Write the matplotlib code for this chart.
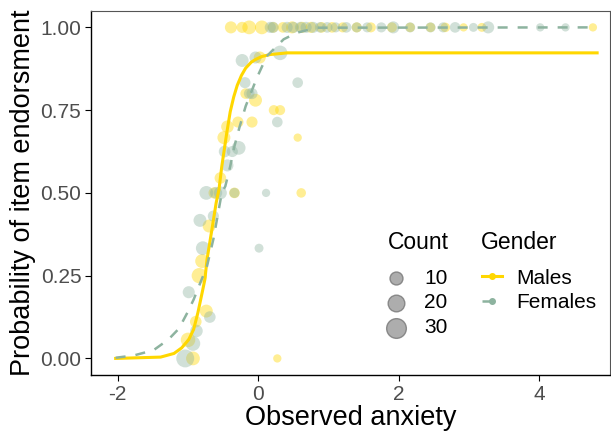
import numpy as np
import matplotlib
matplotlib.use("Agg")
import matplotlib.pyplot as plt
from matplotlib.lines import Line2D

plt.rcParams["font.family"] = ["Liberation Sans", "DejaVu Sans"]
plt.rcParams["axes.unicode_minus"] = False

MALE_COL = "#FFD700"
FEMALE_COL = "#8DB39F"

# observed proportions per anxiety score (x, proportion, count)
male_x = [-0.39, -0.23, -0.13, 0.05, 0.21, 0.35, 0.48, 0.62, 0.75, 0.90, 1.05, 1.20,
          1.40, 1.60, 1.90, 2.16, 2.45, 2.66, 2.92, 3.18, 4.76,
          0.02, -0.18, -0.04, 0.22, 0.31, -0.09, -0.29, -0.44, -0.49, 0.56, -0.54,
          -0.63, -0.34, 0.61, -0.70, -0.80, -0.84, -0.74, -0.89, -1.00, -0.93, 0.27]
male_y = [1.0] * 21 + [0.909, 0.80, 0.78, 0.75, 0.75, 0.714, 0.714, 0.70, 0.667, 0.667,
                       0.545, 0.50, 0.50, 0.50, 0.40, 0.294, 0.25, 0.143, 0.111, 0.056,
                       0.0, 0.0]
male_n = [8, 6, 12, 12, 5, 5, 8, 6, 6, 5, 5, 4, 4, 4, 4, 3, 3, 3, 1, 2, 1,
          8, 5, 10, 4, 4, 6, 6, 9, 10, 1, 7, 6, 5, 3, 10, 12, 16, 10, 7, 14, 12, 1]

female_x = [0.17, 0.21, 0.41, 0.50, 0.60, 0.68, 0.78, 0.88, 0.98, 1.10, 1.25, 1.40,
            1.55, 1.75, 1.92, 2.16, 2.45, 2.63, 2.80, 3.06, 3.27, 4.01, 4.37,
            -0.23, -0.04, 0.31, -0.19, 0.56, -0.13, -0.09, 0.27, -0.28, -0.48, -0.37,
            -0.44, -0.74, -0.54, -0.34, 0.11, -0.60, -0.64, -0.83, -0.79, 0.01,
            -0.99, -0.69, -0.88, -0.93, -1.04]
female_y = [1.0] * 23 + [0.90, 0.909, 0.923, 0.833, 0.833, 0.80, 0.80, 0.714, 0.636,
                         0.625, 0.625, 0.583, 0.50, 0.50, 0.50, 0.50, 0.50, 0.43, 0.417,
                         0.333, 0.333, 0.20, 0.125, 0.083, 0.045, 0.0]
female_n = [6, 6, 6, 6, 6, 6, 6, 5, 5, 4, 5, 4, 4, 4, 8, 4, 4, 4, 5, 2, 8, 1, 1,
            10, 8, 14, 6, 5, 5, 6, 5, 12, 7, 6, 8, 12, 10, 4, 1, 8, 6, 10, 12, 2,
            8, 7, 9, 14, 24]

# fitted curves
male_curve_x = [-2.03, -1.39, -1.20, -1.09, -0.99, -0.92, -0.86, -0.80, -0.76, -0.73,
                -0.66, -0.60, -0.56, -0.52, -0.45, -0.40, -0.35, -0.30, -0.24, -0.18,
                -0.10, -0.04, 0.05, 0.17, 0.41, 4.82]
male_curve_y = [0.0, 0.004, 0.015, 0.032, 0.057, 0.088, 0.138, 0.198, 0.239, 0.299,
                0.39, 0.47, 0.51, 0.58, 0.68, 0.745, 0.79, 0.825, 0.855, 0.877,
                0.895, 0.903, 0.912, 0.918, 0.923, 0.923]
female_curve_x = [-2.03, -1.77, -1.49, -1.28, -1.13, -1.01, -0.92, -0.83, -0.73, -0.64,
                  -0.58, -0.52, -0.47, -0.40, -0.34, -0.27, -0.18, -0.02, 0.12, 0.36,
                  0.55, 0.83, 4.82]
female_curve_y = [0.002, 0.009, 0.025, 0.057, 0.09, 0.138, 0.178, 0.226, 0.279, 0.36,
                  0.43, 0.50, 0.52, 0.58, 0.641, 0.697, 0.762, 0.848, 0.913, 0.964,
                  0.984, 0.999, 1.0]

count_breaks = [10, 20, 30]


def area(n):
    return 30 + 5.7 * np.asarray(n, dtype=float)


fig = plt.figure(figsize=(6.11, 4.33), dpi=100)
ax = fig.add_axes([0.149, 0.134, 0.849, 0.841])

ax.scatter(male_x, male_y, s=area(male_n), color=MALE_COL, alpha=0.42,
           edgecolors="none", zorder=2)
ax.scatter(female_x, female_y, s=area(female_n), color=FEMALE_COL, alpha=0.4,
           edgecolors="none", zorder=2)
ax.plot(male_curve_x, male_curve_y, color=MALE_COL, lw=2.2, zorder=3)
ax.plot(female_curve_x, female_curve_y, color=FEMALE_COL, lw=1.8,
        dashes=(4, 4), zorder=3)

ax.set_xlim(-2.38, 5.0)
ax.set_ylim(-0.05, 1.05)
ax.set_xticks([-2, 0, 2, 4])
ax.set_yticks([0, 0.25, 0.5, 0.75, 1.0])
ax.set_yticklabels(["0.00", "0.25", "0.50", "0.75", "1.00"])
ax.tick_params(labelsize=15, labelcolor="#4D4D4D", length=4, width=0.8, pad=3)
ax.set_xlabel("Observed anxiety", fontsize=19.5, labelpad=1)
ax.set_ylabel("Probability of item endorsment", fontsize=19.5, labelpad=3)
for side in ("left", "bottom"):
    ax.spines[side].set_linewidth(1.0)
for side in ("top", "right"):
    ax.spines[side].set_linewidth(0.8)
    ax.spines[side].set_color("#555555")

# legends: titles as plain text, left aligned like ggplot
ax.text(0.572, 0.363, "Count", transform=ax.transAxes, fontsize=16.5,
        ha="left", va="center")
ax.text(0.751, 0.363, "Gender", transform=ax.transAxes, fontsize=16.5,
        ha="left", va="center")

size_handles = [plt.scatter([], [], s=area(b), color="#999999", alpha=0.8,
                            edgecolors="#777777") for b in count_breaks]
leg1 = ax.legend(size_handles, [str(b) for b in count_breaks],
                 loc="upper left", bbox_to_anchor=(0.567, 0.292), frameon=False,
                 fontsize=15, labelspacing=0.28, handlelength=1.0,
                 handletextpad=0.87, borderaxespad=0, borderpad=0)
ax.add_artist(leg1)

gender_handles = [
    Line2D([], [], color=MALE_COL, lw=2.2, marker="o", ms=4),
    Line2D([], [], color=FEMALE_COL, lw=1.8, dashes=(4, 4), marker="o", ms=4),
]
ax.legend(gender_handles, ["Males", "Females"],
          loc="upper left", bbox_to_anchor=(0.753, 0.292), frameon=False,
          fontsize=15, labelspacing=0.28, handlelength=1.0,
          handletextpad=0.67, borderaxespad=0, borderpad=0)

fig.savefig("out.png", dpi=100)
